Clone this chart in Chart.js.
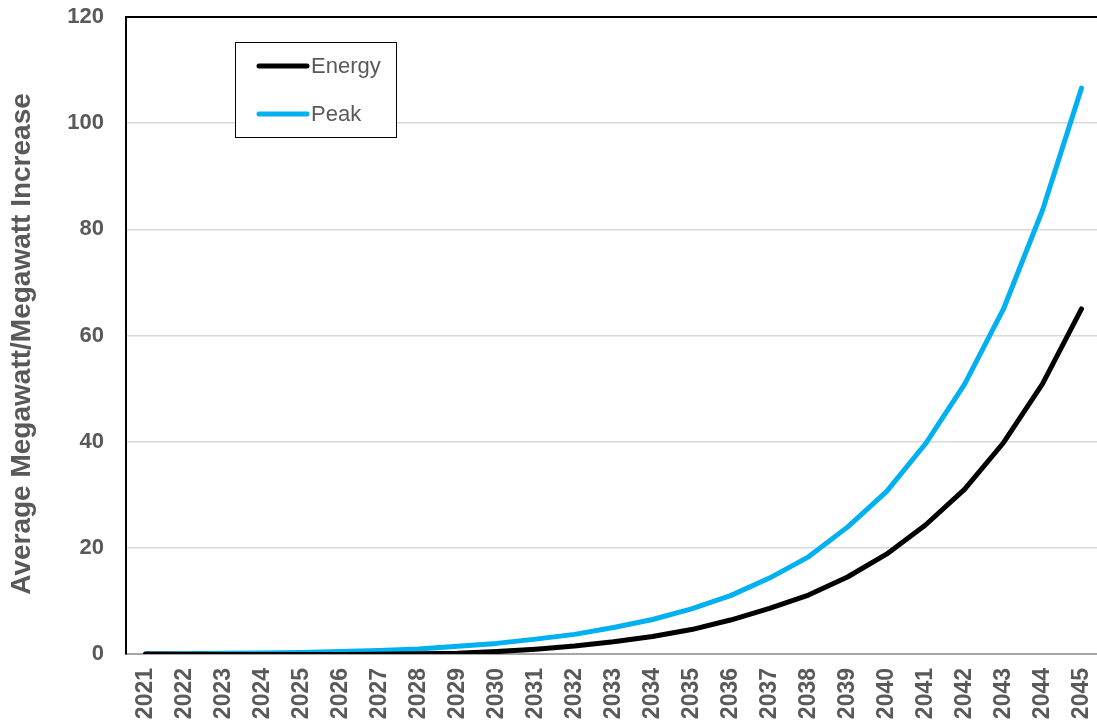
<!DOCTYPE html>
<html>
<head>
<meta charset="utf-8">
<script src="https://cdn.jsdelivr.net/npm/chart.js@4/dist/chart.umd.min.js"></script>
<style>
  html, body { margin: 0; padding: 0; background: #fff; overflow: hidden; }
  #wrap { width: 1101px; height: 727px; }
</style>
</head>
<body>
<div id="wrap"><canvas id="c" width="1101" height="727"></canvas></div>
<script>
// Forecast years along the horizontal axis
const years = ['2021','2022','2023','2024','2025','2026','2027','2028','2029','2030',
               '2031','2032','2033','2034','2035','2036','2037','2038','2039','2040',
               '2041','2042','2043','2044','2045'];

// Average megawatt increase (energy)
const energy = [0, -0.05, -0.1, -0.1, -0.1, -0.1, -0.05, 0.05, 0.15, 0.45,
                0.9, 1.5, 2.3, 3.3, 4.6, 6.4, 8.6, 11.1, 14.5, 18.8,
                24.3, 31.0, 39.8, 50.9, 65.0];

// Megawatt increase at peak
const peak = [0, 0.05, 0.12, 0.2, 0.3, 0.45, 0.65, 0.95, 1.45, 2.0,
              2.8, 3.7, 5.0, 6.5, 8.5, 11.0, 14.3, 18.3, 23.9, 30.6,
              39.6, 50.8, 65.0, 83.6, 106.6];

// Value-axis tick labels
const yTicks = [0, 20, 40, 60, 80, 100, 120];

const seriesNames = ['Energy', 'Peak'];
const seriesColors = ['#000000', '#00b0f0'];
const yTitle = 'Average Megawatt/Megawatt Increase';

const FONT = "'Liberation Sans', Arial, sans-serif";
const GREY = '#595959';

// Boxed legend placed inside the plot area, upper left
const boxLegend = {
  id: 'boxLegend',
  afterDatasetsDraw(chart) {
    const ctx = chart.ctx;
    ctx.save();
    ctx.fillStyle = '#ffffff';
    ctx.fillRect(235.5, 42.5, 161, 95);
    ctx.strokeStyle = '#000000';
    ctx.lineWidth = 1;
    ctx.strokeRect(235.5, 42.5, 161, 95);
    const rows = [66, 114];
    chart.data.datasets.forEach((ds, i) => {
      ctx.beginPath();
      ctx.lineCap = 'round';
      ctx.lineWidth = 5;
      ctx.strokeStyle = ds.borderColor;
      ctx.moveTo(259, rows[i]);
      ctx.lineTo(307, rows[i]);
      ctx.stroke();
      ctx.fillStyle = GREY;
      ctx.font = '22px ' + FONT;
      ctx.textAlign = 'left';
      ctx.textBaseline = 'middle';
      ctx.fillText(ds.label, 311, rows[i] + 1);
    });
    ctx.restore();
  }
};

// Rotated title for the value axis
const sideTitle = {
  id: 'sideTitle',
  afterDraw(chart) {
    const ctx = chart.ctx;
    ctx.save();
    ctx.translate(22, 344);
    ctx.rotate(-Math.PI / 2);
    ctx.fillStyle = GREY;
    ctx.font = 'bold 28px ' + FONT;
    ctx.textAlign = 'center';
    ctx.textBaseline = 'middle';
    ctx.fillText(yTitle, 0, 0);
    ctx.restore();
  }
};

new Chart(document.getElementById('c'), {
  type: 'line',
  data: {
    labels: years,
    datasets: [
      { label: seriesNames[0], data: energy, borderColor: seriesColors[0], backgroundColor: seriesColors[0],
        borderWidth: 5, pointRadius: 0, tension: 0, borderCapStyle: 'round', borderJoinStyle: 'round' },
      { label: seriesNames[1], data: peak, borderColor: seriesColors[1], backgroundColor: seriesColors[1],
        borderWidth: 5, pointRadius: 0, tension: 0, borderCapStyle: 'round', borderJoinStyle: 'round' }
    ]
  },
  options: {
    responsive: false,
    devicePixelRatio: 1,
    animation: false,
    layout: { padding: { top: 17, right: 0, bottom: 0, left: 0 } },
    plugins: { legend: { display: false }, tooltip: { enabled: false } },
    scales: {
      x: {
        type: 'category',
        offset: true,
        grid: { display: false, drawTicks: false },
        border: { color: '#a6a6a6', width: 2 },
        ticks: {
          autoSkip: false, minRotation: 90, maxRotation: 90, padding: 14,
          color: GREY, font: { family: FONT, size: 23, weight: 'bold' }
        },
        afterFit(s) { s.height = 73; s.paddingLeft = 0; s.paddingRight = 0; }
      },
      y: {
        min: 0, max: 120,
        afterBuildTicks(s) { s.ticks = yTicks.map(v => ({ value: v })); },
        grid: {
          drawTicks: false,
          color: c => c.tick.value === 120 ? '#000000' : (c.tick.value === 0 ? '#a6a6a6' : '#d9d9d9'),
          lineWidth: c => c.tick.value === 120 ? 2 : 1.5
        },
        border: { color: '#000000', width: 2 },
        ticks: {
          padding: 22, color: GREY,
          font: { family: FONT, size: 22, weight: 'bold' }
        },
        afterFit(s) { s.width = 126; s.paddingTop = 0; s.paddingBottom = 0; }
      }
    }
  },
  plugins: [boxLegend, sideTitle]
});
</script>
</body>
</html>
